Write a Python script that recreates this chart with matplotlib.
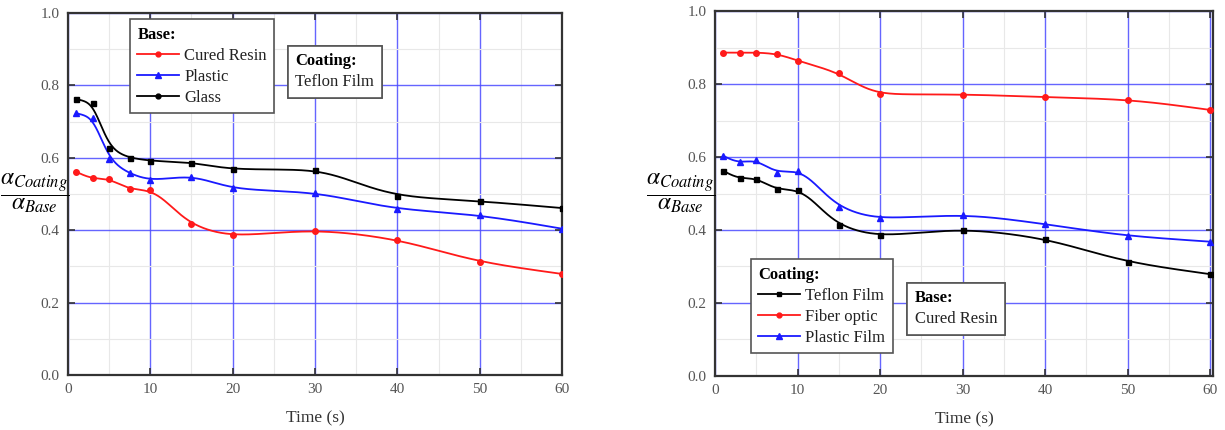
import numpy as np
import matplotlib
matplotlib.use("Agg")
import matplotlib.pyplot as plt
from matplotlib.ticker import MultipleLocator, FormatStrFormatter
from matplotlib.lines import Line2D

plt.rcParams['font.family'] = ['Liberation Serif', 'DejaVu Serif']
plt.rcParams['mathtext.fontset'] = 'stix'

time_s = [1, 3, 5, 7.5, 10, 15, 20, 30, 40, 50, 60]

# Left panel: Coating = Teflon Film, different bases
left_cured_resin = [0.561, 0.543, 0.541, 0.513, 0.510, 0.416, 0.386, 0.398, 0.373, 0.312, 0.279]
left_plastic = [0.723, 0.710, 0.596, 0.557, 0.539, 0.548, 0.516, 0.502, 0.459, 0.441, 0.404]
left_glass = [0.762, 0.750, 0.628, 0.600, 0.592, 0.586, 0.569, 0.566, 0.494, 0.480, 0.461]

# Right panel: Base = Cured Resin, different coatings
right_teflon = [0.562, 0.542, 0.541, 0.511, 0.510, 0.414, 0.386, 0.400, 0.375, 0.312, 0.279]
right_fiber = [0.886, 0.886, 0.886, 0.882, 0.864, 0.829, 0.772, 0.771, 0.764, 0.757, 0.729]
right_plastic_film = [0.603, 0.585, 0.591, 0.557, 0.563, 0.464, 0.433, 0.440, 0.416, 0.384, 0.368]

RED = '#ff1a1a'
BLUE = '#1a1aff'
BLACK = '#000000'


def pchip(x, y, xn):
    x = np.asarray(x, float); y = np.asarray(y, float)
    h = np.diff(x); d = np.diff(y) / h
    n = len(x); m = np.zeros(n)
    for k in range(1, n - 1):
        if d[k - 1] * d[k] > 0:
            w1 = 2 * h[k] + h[k - 1]; w2 = h[k] + 2 * h[k - 1]
            m[k] = (w1 + w2) / (w1 / d[k - 1] + w2 / d[k])
    m[0] = d[0]; m[-1] = d[-1]
    idx = np.clip(np.searchsorted(x, xn) - 1, 0, n - 2)
    t = (xn - x[idx]) / h[idx]
    h00 = 2 * t**3 - 3 * t**2 + 1; h10 = t**3 - 2 * t**2 + t
    h01 = -2 * t**3 + 3 * t**2; h11 = t**3 - t**2
    return h00 * y[idx] + h10 * h[idx] * m[idx] + h01 * y[idx + 1] + h11 * h[idx] * m[idx + 1]


def smooth_curve(y):
    a, b = time_s[0], time_s[-1]
    xn = np.linspace(a, b, 1200)
    yn = pchip(time_s, y, xn)
    # odd reflection at both ends keeps end values while smoothing
    ya, yb = yn[0], yn[-1]
    xl = 2 * a - xn[:0:-1]; yl = 2 * ya - yn[:0:-1]
    xr = 2 * b - xn[-2::-1]; yr = 2 * yb - yn[-2::-1]
    xe = np.concatenate([xl, xn, xr]); ye = np.concatenate([yl, yn, yr])
    ys = np.empty_like(yn)
    for i, xv in enumerate(xn):
        sig = 0.6 + 0.06 * xv
        w = np.exp(-0.5 * ((xe - xv) / sig) ** 2)
        ys[i] = np.sum(w * ye) / np.sum(w)
    return xn, ys


def draw_series(ax, y, color, marker, ms):
    xn, ys = smooth_curve(y)
    ax.plot(xn, ys, color=color, lw=1.3, zorder=3)
    ax.plot(time_s, y, ls='none', marker=marker, color=color, ms=ms, zorder=4)


def style_axes(ax, xmax):
    ax.set_xlim(0, xmax)
    ax.set_ylim(0, 1.0)
    ax.xaxis.set_major_locator(MultipleLocator(10))
    ax.yaxis.set_major_locator(MultipleLocator(0.2))
    ax.xaxis.set_minor_locator(MultipleLocator(5))
    ax.yaxis.set_minor_locator(MultipleLocator(0.1))
    ax.yaxis.set_major_formatter(FormatStrFormatter('%.1f'))
    ax.grid(which='major', color='#4a4aff', lw=1.0, alpha=0.85, zorder=1)
    ax.grid(which='minor', color='#e8e8e8', lw=0.8, zorder=0)
    ax.set_axisbelow(True)
    ax.tick_params(which='major', direction='in', length=5, width=1.2, top=True, right=True,
                   labelsize=11, labelcolor='#555555', color='#333333', pad=6)
    ax.tick_params(which='minor', length=0)
    for s in ax.spines.values():
        s.set_linewidth(1.6)
        s.set_color('#333333')
    ax.set_xlabel('Time (s)', fontsize=12.5, color='#333333', labelpad=10)


def legend_box(ax, handles, labels, title, anchor, fontsize=12, hl=2.5, hp=0.3):
    leg = ax.legend(handles, labels, title=title, loc='upper left', bbox_to_anchor=anchor,
                    borderaxespad=0, fancybox=False, framealpha=1, edgecolor='#555555',
                    fontsize=fontsize, title_fontsize=fontsize, handlelength=hl,
                    handletextpad=hp, labelspacing=0.3, borderpad=0.45,
                    alignment='left')
    leg.get_title().set_fontweight('bold')
    leg.get_frame().set_linewidth(1.2)
    for t in leg.get_texts():
        t.set_color('#222222')
    ax.add_artist(leg)
    return leg


fig = plt.figure(figsize=(12.25, 4.3), dpi=100)
ax1 = fig.add_axes([0.0555, 0.128, 0.4033, 0.842])
ax2 = fig.add_axes([0.5837, 0.1256, 0.4066, 0.8488])

ylabel = r'$\dfrac{\alpha_{Coating}}{\alpha_{Base}}$'
fig.text(35 / 1225, 1 - 193 / 430, ylabel, fontsize=17, ha='center', va='center')
fig.text(681 / 1225, 1 - 193 / 430, ylabel, fontsize=17, ha='center', va='center')

# Left panel
draw_series(ax1, left_cured_resin, RED, 'o', 4)
draw_series(ax1, left_plastic, BLUE, '^', 4.5)
draw_series(ax1, left_glass, BLACK, 's', 3.6)
style_axes(ax1, 60)
h1 = [Line2D([], [], color=RED, marker='o', ms=3.5, lw=1.3),
      Line2D([], [], color=BLUE, marker='^', ms=4, lw=1.3),
      Line2D([], [], color=BLACK, marker='o', ms=3.5, lw=1.3)]
legend_box(ax1, h1, ['Cured Resin', 'Plastic', 'Glass'], 'Base:', (0.1255, 0.983))
legend_box(ax1, [Line2D([], [], lw=0)], ['Teflon Film'], 'Coating:', (0.445, 0.909),
           hl=0, hp=0)

# Right panel
draw_series(ax2, right_teflon, BLACK, 's', 3.6)
draw_series(ax2, right_fiber, RED, 'o', 4)
draw_series(ax2, right_plastic_film, BLUE, '^', 4.5)
style_axes(ax2, 60.36)
h2 = [Line2D([], [], color=BLACK, marker='s', ms=3.5, lw=1.3),
      Line2D([], [], color=RED, marker='o', ms=3.5, lw=1.3),
      Line2D([], [], color=BLUE, marker='^', ms=4, lw=1.3)]
legend_box(ax2, h2, ['Teflon Film', 'Fiber optic', 'Plastic Film'], 'Coating:', (0.072, 0.32))
legend_box(ax2, [Line2D([], [], lw=0)], ['Cured Resin'], 'Base:', (0.386, 0.255),
           hl=0, hp=0)

fig.savefig('out.png', dpi=100)
